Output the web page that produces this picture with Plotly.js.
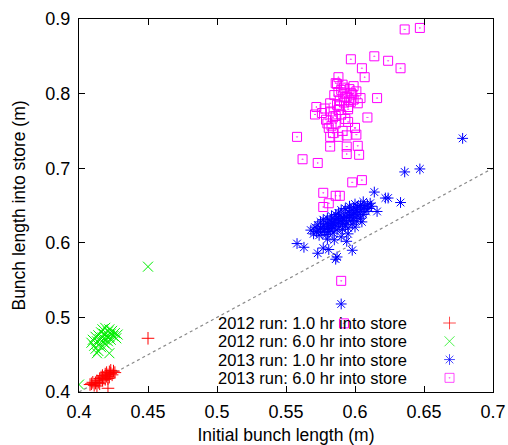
<!DOCTYPE html>
<html>
<head>
<meta charset="utf-8">
<script src="https://cdn.plot.ly/plotly-3.0.1.min.js"></script>
<style>html,body{margin:0;padding:0;background:#fff;}#chart{width:508px;height:445px;}</style>
</head>
<body>
<div id="chart"></div>
<script>
// ---- data ----
const seriesNames = [
  "2012 run: 1.0 hr into store",
  "2012 run: 6.0 hr into store",
  "2013 run: 1.0 hr into store",
  "2013 run: 6.0 hr into store"
];

const run2012_1hr_x = [0.450,0.409,0.410,0.411,0.412,0.413,0.413,0.414,0.415,0.415,0.416,0.417,0.417,0.418,0.419,0.419,0.420,0.420,0.421,0.421,0.422,0.422,0.423,0.423,0.424,0.425,0.421,0.426,0.408];
const run2012_1hr_y = [0.472,0.411,0.413,0.409,0.412,0.408,0.415,0.413,0.418,0.411,0.420,0.416,0.422,0.419,0.424,0.417,0.421,0.426,0.423,0.418,0.427,0.420,0.425,0.429,0.423,0.428,0.405,0.426,0.410];

const run2012_6hr_x = [0.450,0.400,0.409,0.410,0.411,0.412,0.412,0.413,0.414,0.414,0.415,0.415,0.416,0.416,0.417,0.417,0.418,0.418,0.419,0.419,0.420,0.420,0.421,0.421,0.422,0.422,0.423,0.423,0.424,0.425,0.426,0.427,0.428,0.413,0.422];
const run2012_6hr_y = [0.568,0.410,0.466,0.470,0.462,0.474,0.458,0.468,0.476,0.455,0.465,0.471,0.480,0.460,0.473,0.484,0.466,0.478,0.470,0.486,0.463,0.475,0.481,0.468,0.474,0.484,0.478,0.470,0.482,0.475,0.479,0.472,0.477,0.452,0.452];

const run2013_1hr_x = [0.678,0.647,0.636,0.624,0.633,0.614,0.616,0.558,0.563,0.573,0.577,0.581,0.587,0.598,0.594,0.590,0.586,
  0.568,0.570,0.571,0.572,0.573,0.574,0.575,0.575,0.576,0.577,0.577,0.578,0.579,0.579,0.580,0.580,0.581,0.581,0.582,0.582,0.583,0.583,0.584,0.584,0.585,0.585,0.586,0.586,0.587,0.587,0.588,0.588,0.589,0.589,0.590,0.590,0.591,0.591,0.592,0.592,0.593,0.593,0.594,0.594,0.595,0.595,0.596,0.596,0.597,0.597,0.598,0.598,0.599,0.599,0.600,0.600,0.601,0.601,0.602,0.602,0.603,0.604,0.604,0.605,0.606,0.606,0.607,0.608,0.609,0.610,0.611,0.612,0.590,0.595,0.600,0.585,0.580,0.605,0.622];
const run2013_1hr_y = [0.740,0.699,0.695,0.660,0.654,0.668,0.642,0.599,0.594,0.586,0.593,0.591,0.581,0.590,0.602,0.518,0.578,
  0.617,0.612,0.621,0.615,0.624,0.610,0.619,0.628,0.614,0.622,0.631,0.618,0.626,0.611,0.620,0.633,0.624,0.615,0.629,0.619,0.636,0.623,0.627,0.613,0.631,0.620,0.638,0.625,0.617,0.633,0.628,0.640,0.622,0.635,0.630,0.644,0.626,0.618,0.637,0.632,0.624,0.646,0.634,0.628,0.641,0.620,0.636,0.649,0.630,0.643,0.638,0.625,0.647,0.633,0.640,0.652,0.629,0.644,0.636,0.648,0.641,0.633,0.650,0.645,0.638,0.655,0.647,0.642,0.651,0.646,0.653,0.649,0.608,0.612,0.621,0.604,0.605,0.628,0.660];

const run2013_6hr_x = [0.636,0.647,0.597,0.614,0.624,0.633,0.605,0.607,0.588,0.586,0.616,0.609,0.558,0.562,0.573,0.603,0.594,0.594,0.582,0.601,0.600,0.598,0.605,0.577,0.586,0.589,0.577,0.581,0.590,0.592,
  0.587,0.599,0.585,0.593,0.601,0.604,0.596,0.589,0.582,0.578,0.572,0.571,0.576,0.582,0.588,0.595,0.602,0.580,0.586,0.595,0.600,0.581,0.584,0.588,0.582,0.594,0.602,
  0.590,0.592,0.594,0.596,0.598,0.588,0.591,0.593,0.597,0.599,0.587,0.589,0.592,0.595,0.597,0.584,0.586,0.590,0.593,0.579,0.583,0.591];
const run2013_6hr_y = [0.886,0.888,0.846,0.850,0.844,0.834,0.834,0.822,0.822,0.814,0.794,0.768,0.742,0.712,0.707,0.718,0.719,0.729,0.729,0.745,0.754,0.681,0.684,0.667,0.663,0.663,0.648,0.653,0.549,0.492,
  0.813,0.810,0.798,0.800,0.803,0.794,0.791,0.791,0.787,0.780,0.782,0.772,0.774,0.776,0.778,0.782,0.787,0.760,0.760,0.762,0.754,0.754,0.747,0.742,0.742,0.744,0.730,
  0.805,0.808,0.796,0.806,0.799,0.802,0.812,0.795,0.801,0.792,0.785,0.783,0.788,0.779,0.789,0.768,0.770,0.772,0.766,0.765,0.757,0.750];

const refLineX = [0.4, 0.7];
const refLineY = [0.4, 0.7];

const xTicks = [0.4,0.45,0.5,0.55,0.6,0.65,0.7];
const yTicks = [0.4,0.5,0.6,0.7,0.8,0.9];

// ---- styles ----
const colors = ["#ff0000","#00ee00","#0000ff","#ff00ff"];
const symbols = ["cross-thin-open","x-thin-open","asterisk-open","square-open-dot"];
const sizes = [9,10,9,9];
const font = "Liberation Sans, Arial, Helvetica, sans-serif";

const seriesX = [run2012_1hr_x, run2012_6hr_x, run2013_1hr_x, run2013_6hr_x];
const seriesY = [run2012_1hr_y, run2012_6hr_y, run2013_1hr_y, run2013_6hr_y];

const traces = [{
  x: refLineX, y: refLineY, mode: "lines", type: "scatter",
  line: {color: "#8a8a8a", width: 1.2, dash: "dot"}, showlegend: false, hoverinfo: "skip"
}];
seriesX.forEach((xs, i) => {
  traces.push({
    x: xs, y: seriesY[i], mode: "markers", type: "scatter", name: seriesNames[i],
    marker: {symbol: symbols[i], size: sizes[i], color: colors[i], line: {color: colors[i], width: 1}},
    showlegend: false
  });
});

// legend keys (layout positions on an overlay axis spanning the plot area)
const legendKeyX = 0.895;
const legendRowsY = [0.185, 0.136, 0.087, 0.038];
traces.push({
  x: seriesNames.map(() => legendKeyX), y: legendRowsY,
  xaxis: "x2", yaxis: "y2", mode: "markers", type: "scatter", showlegend: false, hoverinfo: "skip",
  marker: {symbol: symbols, size: sizes, color: colors, line: {color: colors, width: 1}}
});

const annotations = seriesNames.map((name, i) => ({
  text: name, xref: "x2", yref: "y2", x: 0.798, y: legendRowsY[i],
  xanchor: "right", yanchor: "middle", showarrow: false,
  font: {family: font, size: 16.5, color: "#000"}
}));

const layout = {
  width: 508, height: 445,
  margin: {l: 79, r: 15, t: 19, b: 53},
  paper_bgcolor: "#fff", plot_bgcolor: "#fff",
  font: {family: font, size: 18, color: "#000"},
  showlegend: false,
  xaxis: {
    range: [0.4, 0.7], tickvals: xTicks, ticktext: xTicks.map(String),
    ticks: "inside", ticklen: 6, tickcolor: "#000", tickwidth: 1,
    showline: true, linecolor: "#000", linewidth: 1, mirror: "ticks",
    showgrid: false, zeroline: false,
    tickfont: {family: font, size: 18},
    ticklabelstandoff: 3,
    title: {text: "Initial bunch length (m)", font: {family: font, size: 17.5}, standoff: 10}
  },
  yaxis: {
    range: [0.4, 0.9], tickvals: yTicks, ticktext: yTicks.map(String),
    ticks: "inside", ticklen: 6, tickcolor: "#000", tickwidth: 1,
    showline: true, linecolor: "#000", linewidth: 1, mirror: "ticks",
    showgrid: false, zeroline: false,
    tickfont: {family: font, size: 18},
    ticklabelstandoff: 4,
    title: {text: "Bunch length into store (m)", font: {family: font, size: 17.5}, standoff: 15}
  },
  xaxis2: {overlaying: "x", range: [0, 1], visible: false, fixedrange: true},
  yaxis2: {overlaying: "y", range: [0, 1], visible: false, fixedrange: true},
  annotations: annotations
};

Plotly.newPlot("chart", traces, layout, {displayModeBar: false, staticPlot: true});
</script>
</body>
</html>
